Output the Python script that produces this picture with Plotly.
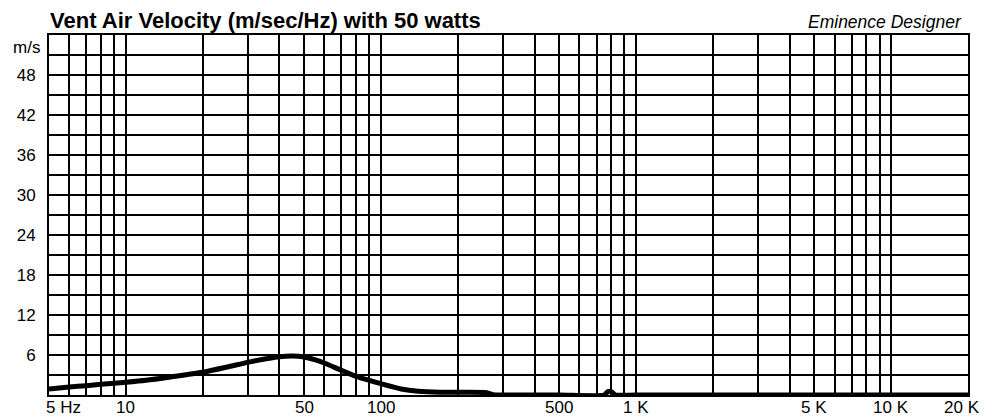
import math
import plotly.graph_objects as go

# ---- data ----
freq_hz = [5, 6, 7, 8, 9, 10, 12, 15, 20, 25, 30, 35, 40, 45, 50, 55, 60, 70, 80, 90,
           100, 120, 140, 170, 200, 260, 275, 300, 500, 750, 775, 800, 830, 1000, 20000]
velocity = [0.9, 1.2, 1.4, 1.6, 1.75, 1.9, 2.2, 2.7, 3.4, 4.2, 4.9, 5.4, 5.75, 5.85, 5.7, 5.3, 4.8, 3.7, 2.8, 2.2,
            1.7, 0.9, 0.55, 0.4, 0.4, 0.35, 0.05, 0.0, 0.0, 0.0, 0.5, 0.5, 0.0, 0.0, 0.0]

x_label_vals = [5, 10, 50, 100, 500, 1000, 5000, 10000, 20000]
x_label_text = ["5 Hz", "10", "50", "100", "500", "1 K", "5 K", "10 K", "20 K"]
y_label_vals = [6, 12, 18, 24, 30, 36, 42, 48]
y_label_text = ["6", "12", "18", "24", "30", "36", "42", "48"]
y_unit = "m/s"
title_text = "Vent Air Velocity (m/sec/Hz) with 50 watts"
brand_text = "Eminence Designer"

# ---- grid positions ----
x_grid = []
for dec in [1, 10, 100, 1000]:
    for m in range(1, 10):
        v = m * dec
        if 5 <= v <= 20000:
            x_grid.append(v)
x_grid += [10000, 20000]
y_grid = list(range(3, 54, 3))
y_text = [y_label_text[y_label_vals.index(v)] if v in y_label_vals else "" for v in y_grid]

FONT = "Arial, Liberation Sans, sans-serif"

fig = go.Figure()
fig.add_trace(go.Scatter(
    x=freq_hz, y=velocity, mode="lines",
    line=dict(color="black", width=5, shape="spline", smoothing=0.6),
    cliponaxis=False, hoverinfo="skip", showlegend=False,
))

annotations = []
for v, t in zip(x_label_vals, x_label_text):
    xa = "center"
    xs = 0
    if t == "5 Hz":
        xa = "left"; xs = -5
    if t == "20 K":
        xs = -6
    annotations.append(dict(
        x=math.log10(v), xref="x", y=0, yref="paper", yanchor="top", xanchor=xa,
        xshift=xs, yshift=-1, text=t, showarrow=False,
        font=dict(family=FONT, size=17, color="black")))

annotations.append(dict(x=0, xref="paper", xanchor="right", xshift=-7,
                        y=52.2, yref="y", yanchor="middle", text=y_unit, showarrow=False,
                        font=dict(family=FONT, size=17, color="black")))
annotations.append(dict(x=0, xref="paper", xanchor="left", xshift=-1,
                        y=1, yref="paper", yanchor="bottom", yshift=0,
                        text="<b>" + title_text + "</b>", showarrow=False,
                        font=dict(family=FONT, size=22, color="black")))
annotations.append(dict(x=1, xref="paper", xanchor="right", xshift=-4,
                        y=1, yref="paper", yanchor="bottom", yshift=1,
                        text="<i>" + brand_text + "</i>", showarrow=False,
                        font=dict(family=FONT, size=17.5, color="black")))

fig.update_layout(
    width=989, height=420,
    margin=dict(l=49, r=21, t=35, b=25),
    paper_bgcolor="white", plot_bgcolor="white",
    font=dict(family=FONT, size=17, color="black"),
    annotations=annotations,
    xaxis=dict(
        type="log", range=[math.log10(5), math.log10(20000)],
        tickmode="array", tickvals=x_grid, showticklabels=False, ticks="",
        showgrid=True, gridcolor="black", gridwidth=2, automargin=False,
        showline=True, linecolor="black", linewidth=2, mirror=True, zeroline=False,
    ),
    yaxis=dict(
        range=[0, 54], tickmode="array", tickvals=y_grid, ticktext=y_text, ticks="",
        ticklabelstandoff=8, automargin=False,
        showgrid=True, gridcolor="black", gridwidth=2,
        showline=True, linecolor="black", linewidth=2, mirror=True, zeroline=False,
        tickfont=dict(family=FONT, size=17, color="black"),
    ),
)

fig.write_html(
    "out.html",
    config={"displayModeBar": False},
    post_script="document.body.style.margin='0';document.body.style.overflow='hidden';",
)
